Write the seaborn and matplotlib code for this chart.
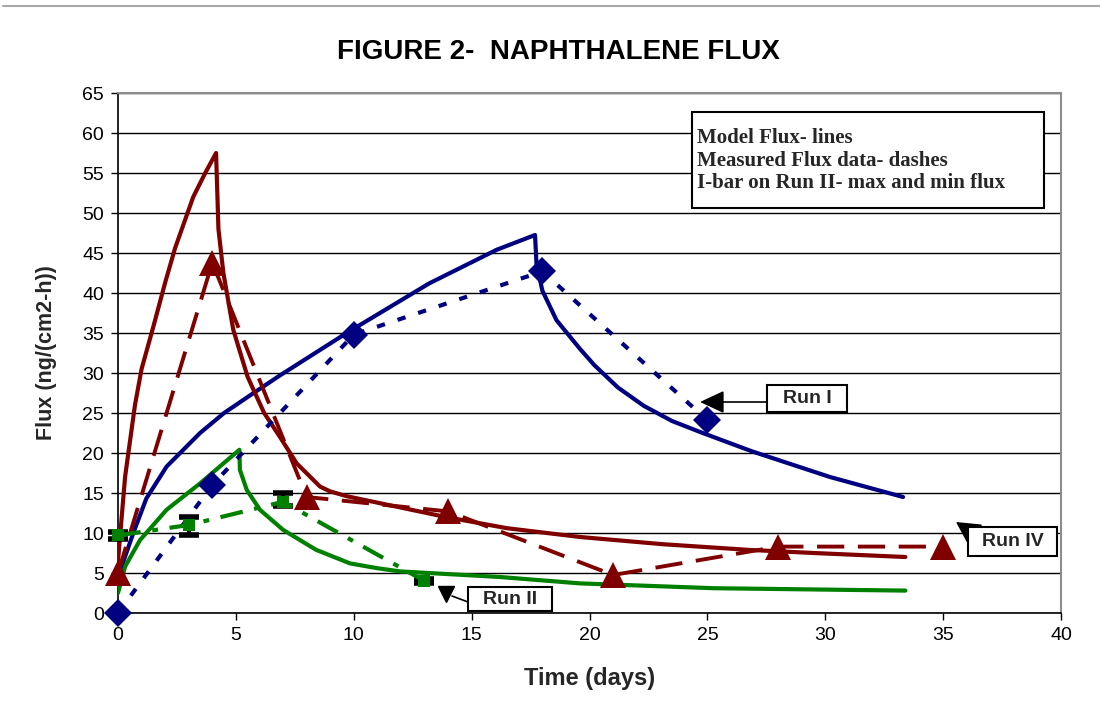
import matplotlib
matplotlib.use("Agg")
import matplotlib.pyplot as plt
import seaborn as sns
from matplotlib.patches import Rectangle
from matplotlib.lines import Line2D

# ---------------- data ----------------
run1_model_x = [0, 0.08, 0.65, 1.2, 2.06, 3.48, 4.5, 5.6, 6.87, 9.7, 13.2, 16.06, 17.69,
                17.75, 18.0, 18.6, 19.6, 20.2, 21.2, 22.3, 23.5, 24.8, 26.9, 30.2, 33.3]
run1_model_y = [4.0, 5.2, 10.0, 14.3, 18.3, 22.5, 25.0, 27.2, 29.7, 35.0, 41.2, 45.4, 47.25,
                43.7, 40.3, 36.6, 33.0, 31.0, 28.2, 25.9, 24.0, 22.5, 20.2, 17.0, 14.5]

run4_model_x = [0, 0.1, 0.3, 0.72, 1.0, 1.5, 2.0, 2.42, 3.19, 3.7, 4.16, 4.26, 4.47, 4.89,
                5.5, 6.2, 6.87, 7.58, 8.57, 9.0, 9.7, 11.8, 13.9, 16.5, 19.6, 23.1, 26.7,
                29.5, 33.4]
run4_model_y = [6.5, 10.0, 17.0, 26.0, 30.5, 35.8, 41.3, 45.6, 52.0, 55.0, 57.5, 48.0, 42.5,
                35.4, 29.5, 25.0, 22.0, 18.7, 15.8, 15.2, 14.6, 13.3, 12.0, 10.6, 9.5, 8.6,
                7.9, 7.5, 7.0]

run2_model_x = [0, 0.3, 0.93, 2.06, 3.48, 5.15, 5.17, 5.46, 6.02, 7.0, 8.4, 9.84,
                11.0, 11.96, 16.2, 19.6, 25.25, 33.4]
run2_model_y = [2.5, 5.8, 9.1, 12.9, 16.2, 20.4, 17.9, 15.4, 12.9, 10.4, 7.9, 6.2,
                5.6, 5.2, 4.5, 3.7, 3.1, 2.8]

run1_meas_x = [0, 4, 10, 18, 25]
run1_meas_y = [0.0, 16.0, 34.8, 42.7, 24.1]

run4_meas_x = [0, 4, 8, 14, 21, 28, 35]
run4_meas_y = [5.0, 43.8, 14.5, 12.7, 4.75, 8.3, 8.3]

run2_meas_x = [0, 3, 7, 13]
run2_meas_y = [9.7, 11.0, 13.9, 4.0]
run2_min = [9.2, 9.75, 13.4, 3.8]
run2_max = [10.1, 12.0, 15.0, 4.2]

x_ticks = [0, 5, 10, 15, 20, 25, 30, 35, 40]
y_ticks = [0, 5, 10, 15, 20, 25, 30, 35, 40, 45, 50, 55, 60, 65]

legend_lines = ["Model Flux- lines",
                "Measured Flux data- dashes",
                "I-bar on Run II- max and min flux"]

# ---------------- style ----------------
sns.set_theme(style="white")
plt.rcParams['font.family'] = ['Liberation Sans', 'DejaVu Sans']

NAVY = '#000080'
MAROON = '#800000'
GREEN = '#008000'

W, H = 1100, 713
fig = plt.figure(figsize=(W / 100, H / 100), dpi=100)
fig.patch.set_facecolor('white')
ax = fig.add_axes([118 / W, 1 - 613 / H, (1061 - 118) / W, (613 - 93) / H])
ax.set_facecolor('white')

# model lines
sns.lineplot(x=run1_model_x, y=run1_model_y, ax=ax, color=NAVY, lw=3,
             sort=False, estimator=None, zorder=3)
sns.lineplot(x=run4_model_x, y=run4_model_y, ax=ax, color=MAROON, lw=3,
             sort=False, estimator=None, zorder=3)
sns.lineplot(x=run2_model_x, y=run2_model_y, ax=ax, color=GREEN, lw=3,
             sort=False, estimator=None, zorder=3)

# measured
sns.lineplot(x=run1_meas_x, y=run1_meas_y, ax=ax, color=NAVY, lw=3,
             linestyle=(0, (2.0, 3.2)), marker='D', markersize=14,
             markeredgecolor=NAVY, markeredgewidth=0, sort=False, estimator=None,
             zorder=5, clip_on=False)
sns.lineplot(x=run4_meas_x, y=run4_meas_y, ax=ax, color=MAROON, lw=2.8,
             linestyle=(0, (7, 3.5)), marker='^', markersize=19,
             markeredgecolor=MAROON, markeredgewidth=0, sort=False, estimator=None,
             zorder=5, clip_on=False)
yerr = [[v - lo for v, lo in zip(run2_meas_y, run2_min)],
        [hi - v for v, hi in zip(run2_meas_y, run2_max)]]
eb = ax.errorbar(run2_meas_x, run2_meas_y, yerr=yerr, fmt='none', ecolor='black',
                 elinewidth=3, capsize=7, capthick=4, zorder=4)
for art in eb.lines[1]:
    art.set_clip_on(False)
for art in eb.lines[2]:
    art.set_clip_on(False)
sns.lineplot(x=run2_meas_x, y=run2_meas_y, ax=ax, color=GREEN, lw=3,
             linestyle=(0, (5.5, 2.8, 1.4, 2.8)), marker='s', markersize=8.5,
             markeredgecolor=GREEN, markeredgewidth=0, sort=False, estimator=None,
             zorder=5, clip_on=False)

# axes
ax.set_xlim(0, 40)
ax.set_ylim(0, 65)
ax.set_xticks(x_ticks)
ax.set_yticks(y_ticks)
ax.set_xticklabels([str(t) for t in x_ticks])
ax.set_yticklabels([str(t) for t in y_ticks])
ax.tick_params(axis='both', which='major', labelsize=14, colors='black',
               direction='out', length=5, width=1, pad=5)
ax.tick_params(axis='x', bottom=True)
ax.tick_params(axis='y', left=True)
ax.yaxis.grid(True, color='black', lw=1)
ax.xaxis.grid(False)
ax.set_axisbelow(True)
for side in ['left', 'bottom']:
    ax.spines[side].set_color('black')
    ax.spines[side].set_linewidth(1.2)
for side in ['top', 'right']:
    ax.spines[side].set_color('#8c8c8c')
    ax.spines[side].set_linewidth(1.5)

ax.set_xlabel('Time (days)', fontsize=17, fontweight='bold', va='center')
ax.xaxis.set_label_coords(0.5, -(678 - 613) / 520)
ax.set_ylabel('Flux (ng/(cm2-h))', fontsize=15.5, fontweight='bold', va='center')
ax.yaxis.set_label_coords((47 - 118) / 943, 0.5)

fig.text(558 / W, 1 - 52 / H, 'FIGURE 2-  NAPHTHALENE FLUX', ha='center', va='center',
         fontsize=20, fontweight='bold', color='black')

# top border of chart area
fig.add_artist(Line2D([3 / W, 1], [1 - 6 / H, 1 - 6 / H], transform=fig.transFigure,
                      color='#a8a8a8', lw=1.5))


def fbox(x0, y0, x1, y1, lw=1.5):
    fig.add_artist(Rectangle((x0 / W, 1 - y1 / H), (x1 - x0) / W, (y1 - y0) / H,
                             transform=fig.transFigure, facecolor='white',
                             edgecolor='black', lw=lw, zorder=6))


# note box
fbox(692, 112, 1044, 208)
for txt, base in zip(legend_lines, [143, 166, 188]):
    fig.text(697 / W, 1 - base / H, txt, ha='left', va='baseline', fontsize=15,
             fontweight='bold', family=['Liberation Serif', 'DejaVu Serif'], zorder=7)

# Run I label
fbox(767, 385, 847, 412)
fig.text(807 / W, 1 - 399 / H, 'Run I', ha='center', va='center', fontsize=14,
         fontweight='bold', zorder=7)
ax.annotate('', xy=(700, H - 402), xytext=(767, H - 402), xycoords='figure pixels',
            textcoords='figure pixels', annotation_clip=False,
            arrowprops=dict(arrowstyle='-|>,head_length=0.75,head_width=0.35',
                            mutation_scale=20, color='black', lw=1.2, shrinkA=0, shrinkB=0))

# Run II label
fbox(468, 587, 552, 611)
fig.text(510 / W, 1 - 599.5 / H, 'Run II', ha='center', va='center', fontsize=14,
         fontweight='bold', zorder=7)
fig.add_artist(Line2D([468 / W, 452 / W], [1 - 602 / H, 1 - 596 / H],
                      transform=fig.transFigure, color='black', lw=1.2, zorder=7))
fig.add_artist(Line2D([446 / W], [1 - 594 / H], transform=fig.transFigure, marker='v',
                      markersize=12, color='black', lw=0, zorder=7))

# Run IV label
fbox(968, 527, 1057, 556)
fig.text(1012.5 / W, 1 - 542 / H, 'Run IV', ha='center', va='center', fontsize=14,
         fontweight='bold', zorder=7)
ax.annotate('', xy=(956, H - 522), xytext=(968, H - 530), xycoords='figure pixels',
            textcoords='figure pixels', annotation_clip=False,
            arrowprops=dict(arrowstyle='-|>,head_length=0.75,head_width=0.4',
                            mutation_scale=20, color='black', lw=1.2, shrinkA=0, shrinkB=0))

fig.savefig('out.png', dpi=100, facecolor='white')
